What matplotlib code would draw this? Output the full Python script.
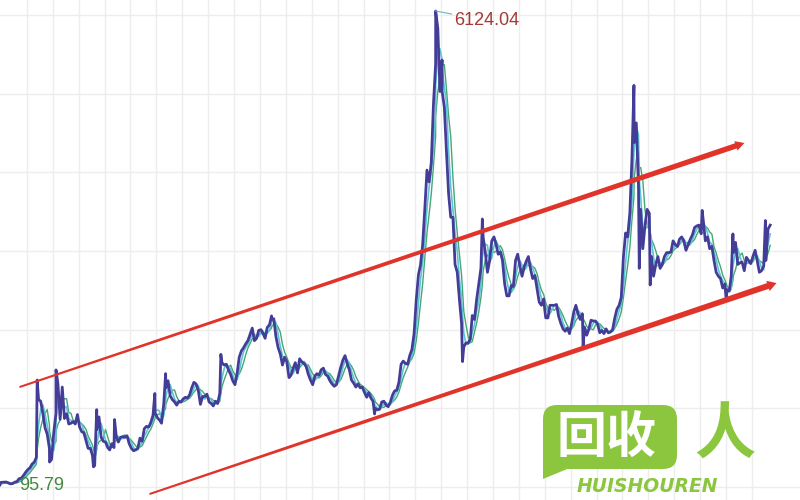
"""
上证指数 长期走势 + 上升通道
"""
import pandas as pd
import matplotlib
matplotlib.use('Agg')
import matplotlib.pyplot as plt
from matplotlib.patches import Polygon, FancyBboxPatch

# 月中收盘点位 (1991-01 ～ 2020-08)
monthly_close = [
    130, 132, 120, 108, 112, 130, 138, 175, 180, 215, 255, 290,          # 1991
    313, 360, 385, 445, 1180, 1160, 1000, 820, 740, 560, 420, 760,       # 1992
    1000, 1380, 930, 1340, 940, 1000, 870, 880, 900, 870, 990, 830,      # 1993
    770, 760, 660, 560, 560, 470, 340, 800, 960, 700, 650, 640,          # 1994
    570, 540, 620, 570, 720, 640, 700, 710, 700, 720, 620, 560,          # 1995
    530, 540, 560, 690, 650, 810, 840, 830, 890, 980, 1010, 950,         # 1996
    920, 880, 1120, 1330, 1420, 1230, 1180, 1150, 1110, 1160, 1150, 1190,  # 1997
    1210, 1200, 1240, 1330, 1400, 1380, 1300, 1120, 1220, 1220, 1250, 1150,  # 1998
    1130, 1100, 1160, 1130, 1260, 1650, 1620, 1630, 1560, 1500, 1420, 1370,  # 1999
    1520, 1720, 1800, 1840, 1890, 1930, 2010, 2090, 1930, 1960, 2060, 2070,  # 2000
    2020, 1960, 2100, 2130, 2200, 2210, 1980, 1840, 1760, 1620, 1720, 1660,  # 2001
    1460, 1490, 1580, 1650, 1520, 1700, 1660, 1640, 1600, 1500, 1430, 1370,  # 2002
    1480, 1510, 1490, 1560, 1580, 1500, 1480, 1420, 1380, 1350, 1370, 1480,  # 2003
    1590, 1680, 1740, 1640, 1560, 1430, 1390, 1340, 1380, 1330, 1340, 1270,  # 2004
    1210, 1270, 1200, 1160, 1070, 1050, 1060, 1150, 1160, 1110, 1090, 1150,  # 2005
    1240, 1290, 1300, 1400, 1630, 1670, 1640, 1630, 1740, 1820, 2020, 2450,  # 2006
    2770, 2890, 3150, 3600, 4100, 3950, 4200, 4950, 5450, 5900, 5100, 5100,  # 2007
    4900, 4350, 3800, 3500, 3500, 2900, 2800, 2450, 2150, 1850, 1900, 1900,  # 2008
    1950, 2250, 2200, 2450, 2650, 2850, 3250, 3050, 2800, 2950, 3200, 3250,  # 2009
    3150, 3030, 3060, 2950, 2650, 2500, 2500, 2630, 2620, 2950, 3030, 2880,  # 2010
    2750, 2860, 2940, 3000, 2840, 2720, 2760, 2590, 2420, 2380, 2460, 2220,  # 2011
    2220, 2380, 2380, 2380, 2390, 2240, 2150, 2080, 2050, 2090, 2020, 2150,  # 2012
    2300, 2380, 2270, 2200, 2270, 2100, 2000, 2080, 2190, 2180, 2180, 2140,  # 2013
    2030, 2060, 2020, 2080, 2030, 2040, 2070, 2220, 2330, 2380, 2480, 3000,  # 2014
    3300, 3250, 3550, 4250, 4450, 4700, 3900, 3600, 3100, 3400, 3600, 3550,  # 2015
    3000, 2750, 2900, 3000, 2850, 2900, 3000, 3050, 3050, 3060, 3200, 3150,  # 2016
    3130, 3220, 3250, 3200, 3080, 3150, 3220, 3280, 3370, 3390, 3400, 3290,  # 2017
    3450, 3200, 3250, 3100, 3130, 2950, 2800, 2750, 2720, 2600, 2650, 2580,  # 2018
    2560, 2750, 3050, 3180, 2900, 2920, 2930, 2820, 2990, 2950, 2910, 3000,  # 2019
    3080, 2950, 2800, 2820, 2880, 2950, 3350, 3400,                        # 2020
]

# 高低点
ext_dates = ['1990-12-19', '1990-12-31', '1992-05-26', '1992-11-17', '1993-02-16',
             '1994-07-29', '1994-09-13', '1995-05-22', '1996-12-11', '1997-05-12',
             '1999-06-30', '2001-06-14', '2005-06-06', '2007-10-16', '2008-01-14',
             '2008-10-28', '2009-08-04', '2013-06-25', '2015-06-12', '2015-08-26',
             '2016-01-27', '2018-01-29', '2019-01-04', '2019-04-08', '2020-07-09']
ext_vals = [95.79, 127, 1429, 386, 1558,
            325, 1052, 926, 1258, 1510,
            1756, 2245, 998, 6124.04, 5500,
            1664, 3478, 1849, 5178, 2850,
            2638, 3587, 2440, 3288, 3458]

# 上升通道 (起点, 终点)
upper_channel = [('1991-09-20', 1340), ('2019-09-17', 4445)]
lower_channel = [('1996-09-27', -21), ('2020-12-13', 2663)]

grid_years = list(range(1992, 2021))
grid_levels = [70, 1070, 2070, 3070, 4070, 5070, 6070]

RED = '#e0342a'
GREEN = '#8cc63e'

# データ整形
month_idx = pd.date_range('1991-01-15', periods=len(monthly_close), freq='MS') + pd.Timedelta(days=14)
s = pd.concat([pd.Series(monthly_close, index=month_idx),
               pd.Series(ext_vals, index=pd.to_datetime(ext_dates))]).sort_index()
ma_short = s.rolling('75D').mean()
ma_long = s.rolling('150D').mean()

fig = plt.figure(figsize=(8, 5), dpi=100)
ax = fig.add_axes([0, 0, 1, 1])
ax.set_xlim(pd.Timestamp('1990-12-19'), pd.Timestamp('2021-11-09'))
ax.set_ylim(-97, 6264)
ax.axis('off')

for y in grid_years:
    ax.axvline(pd.Timestamp(f'{y}-01-01'), color='#ededed', lw=1, zorder=0)
for v in grid_levels:
    ax.axhline(v, color='#ededed', lw=1, zorder=0)

ax.plot(s.index, ma_long, color='#46a676', lw=1.0, zorder=2)
ax.plot(s.index, ma_short, color='#5cc4d6', lw=1.2, zorder=2)
ax.plot(s.index, s.values, color='#433d98', lw=2.0, zorder=3)


def channel_line(p0, p1, w0, w1):
    """先细后粗的红线 + 箭头"""
    fig.canvas.draw()
    a = ax.transData.transform((matplotlib.dates.date2num(pd.Timestamp(p0[0])), p0[1]))
    b = ax.transData.transform((matplotlib.dates.date2num(pd.Timestamp(p1[0])), p1[1]))
    d = b - a
    d = d / (d ** 2).sum() ** 0.5
    n = [-d[1], d[0]]
    base = b - d * 9
    pts = [a + [n[0] * w0 / 2, n[1] * w0 / 2],
           base + [n[0] * w1 / 2, n[1] * w1 / 2],
           base + [n[0] * w1 * 0.9, n[1] * w1 * 0.9],
           b,
           base - [n[0] * w1 * 0.9, n[1] * w1 * 0.9],
           base - [n[0] * w1 / 2, n[1] * w1 / 2],
           a - [n[0] * w0 / 2, n[1] * w0 / 2]]
    pts = ax.transData.inverted().transform(pts)
    ax.add_patch(Polygon(pts, closed=True, facecolor=RED, edgecolor='none', zorder=4))


channel_line(upper_channel[0], upper_channel[1], 2.0, 5.5)
channel_line(lower_channel[0], lower_channel[1], 2.0, 6.0)

peak_i = ext_vals.index(max(ext_vals))
ax.annotate(f'{ext_vals[peak_i]:.2f}', xy=(pd.Timestamp(ext_dates[peak_i]), ext_vals[peak_i]),
            xytext=(13.5, -7), textcoords='offset points', ha='left', va='center',
            fontsize=13, family='Liberation Sans', color='#a33a36',
            arrowprops=dict(arrowstyle='-', color='#6ab4bc', lw=0.8, shrinkA=0, shrinkB=0),
            zorder=5)
low_i = ext_vals.index(min(ext_vals))
ax.annotate(f'{ext_vals[low_i]:.2f}', xy=(pd.Timestamp(ext_dates[low_i]), ext_vals[low_i]),
            xytext=(13.7, -0.5), textcoords='offset points', ha='left', va='center',
            fontsize=13, family='Liberation Sans', color='#3f8a3c', zorder=5)

# 水印ロゴ
lax = fig.add_axes([0, 0, 1, 1])
lax.set_xlim(0, 800)
lax.set_ylim(500, 0)
lax.axis('off')
lax.add_patch(FancyBboxPatch((543, 405), 134, 64, boxstyle='round,pad=0,rounding_size=14',
                             facecolor=GREEN, edgecolor='none'))
lax.add_patch(Polygon([(543, 450), (543, 479), (572, 467)], closed=True,
                      facecolor=GREEN, edgecolor='none'))
lax.text(607, 438, '回收', ha='center', va='center', color='white', fontsize=36,
         fontweight='bold', family=['Noto Sans CJK SC', 'DejaVu Sans'])
lax.text(725, 436, '人', ha='center', va='center', color=GREEN, fontsize=44,
         fontweight='bold', family=['Noto Sans CJK SC', 'DejaVu Sans'])
lax.text(577, 492, 'HUISHOUREN', ha='left', va='baseline', color=GREEN, fontsize=13.5,
         fontweight='bold', style='oblique', family='DejaVu Sans')

plt.savefig('out.png', dpi=100)
